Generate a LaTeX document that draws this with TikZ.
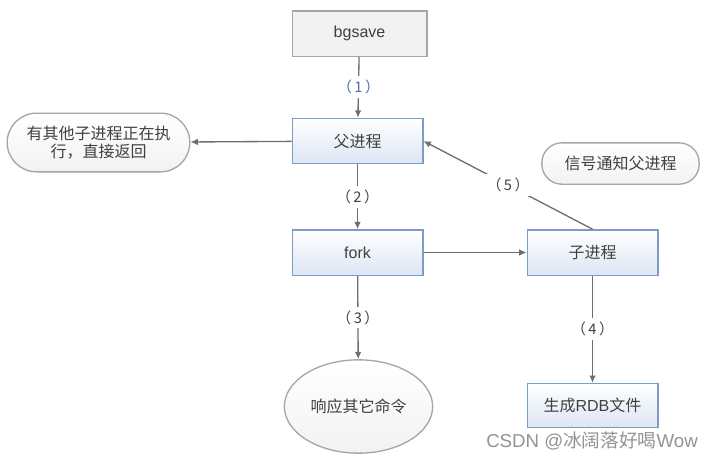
\documentclass[tikz,border=0pt]{standalone}
\usepackage{fontspec}
\setmainfont{Liberation Sans}
\newfontfamily\cjk{Noto Sans CJK SC}
\usepackage{tikz}
\usetikzlibrary{positioning, calc, shapes.geometric, arrows.meta}
\definecolor{BoxLine}{HTML}{7E9BC4}
\definecolor{BoxFill}{HTML}{DCE6F4}
\definecolor{NoteLine}{HTML}{A6A6A6}
\definecolor{NoteFill}{HTML}{F2F2F2}
\definecolor{ArrowGray}{HTML}{6E6E6E}
\definecolor{TextGray}{HTML}{404040}
\definecolor{StepBlue}{HTML}{4A6FA5}

\begin{document}
\begin{tikzpicture}[x=0.75pt, y=-0.75pt,
					ProcBox/.style={rectangle, draw=BoxLine, line width=1pt, top color=white, bottom color=BoxFill, minimum width=98pt, minimum height=34pt, text=TextGray, font=\fontsize{12}{14}\selectfont},
					StartBox/.style={rectangle, draw=NoteLine, line width=1pt, fill=NoteFill, minimum width=101pt, minimum height=34pt, text=TextGray, font=\fontsize{12}{14}\selectfont},
					NoteBox/.style={rectangle, draw=NoteLine, line width=1pt, top color=white, bottom color=NoteFill, text=TextGray, font=\cjk\fontsize{12}{14}\selectfont},
					StepLabel/.style={fill=white, inner sep=3pt, text=TextGray, font=\cjk\fontsize{11}{13}\selectfont},
					Flow/.style={draw=ArrowGray, line width=1pt, -{Latex[length=5.5pt, width=5pt]}}]

				\useasboundingbox (0,0) rectangle (713,461);

				% boxes
				\node[StartBox] (Bgsave) at (359.5,33.5) {bgsave};
				\node[ProcBox] (Parent) at (357.5,141) {\cjk 父进程};
				\node[ProcBox] (Fork) at (357.5,252.5) {fork};
				\node[ProcBox] (Child) at (592.5,252.5) {\cjk 子进程};
				\node[ProcBox, minimum height=33pt] (Rdb) at (592.5,405.5) {{\cjk 生成}RDB{\cjk 文件}};

				% notes
				\node[NoteBox, rounded corners=22pt, minimum width=137pt, minimum height=44pt, align=center] (Busy) at (98.5,142.5) {有其他子进程正在执\\行，直接返回};
				\node[NoteBox, rounded corners=15pt, minimum width=118pt, minimum height=31pt] (Signal) at (620.5,163.5) {信号通知父进程};
				\node[NoteBox, ellipse, minimum width=110pt, minimum height=70pt] (Reply) at (358.5,406.5) {响应其它命令};

				% connectors
				\draw[Flow] (Bgsave) -- (Parent) node[midway, StepLabel, text=StepBlue] {（\,1\,）};
				\draw[Flow] (Parent) -- (Busy);
				\draw[Flow] (Parent) -- (Fork) node[midway, StepLabel] {（\,2\,）};
				\draw[Flow] (Fork) -- (Child);
				\draw[Flow] (Fork) -- (Reply) node[midway, StepLabel] {（\,3\,）};
				\draw[Flow] (Child) -- (Rdb) node[midway, StepLabel] {（\,4\,）};
				\draw[Flow] (Child.north) -- (Parent.east) node[midway, StepLabel] {（\,5\,）};

				\node[text=gray!85, font=\fontsize{14}{16}\selectfont] (Mark) at (592,441) {CSDN @{\cjk 冰阔落好喝}Wow};
			\end{tikzpicture}
\end{document}
